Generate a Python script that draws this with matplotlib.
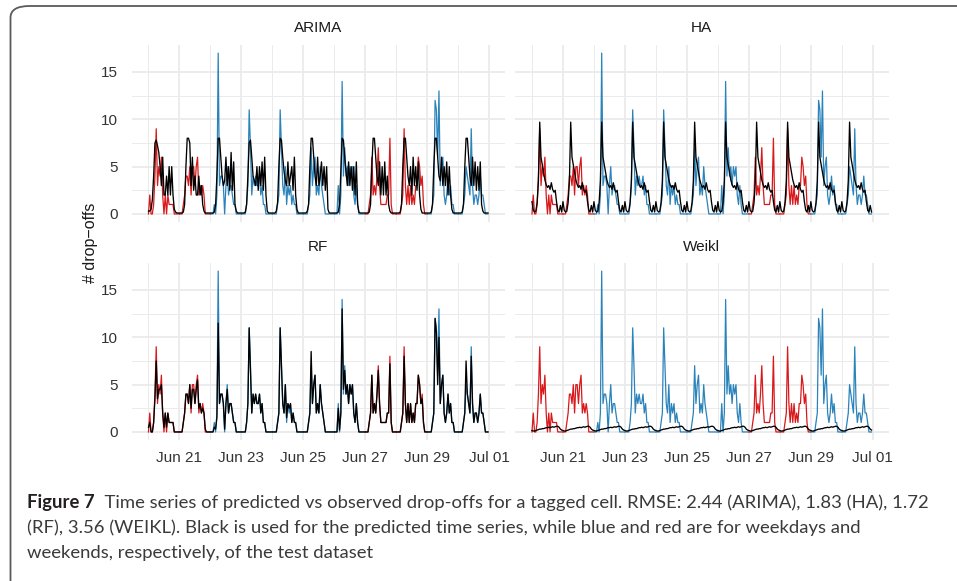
import numpy as np
import pandas as pd
import matplotlib
matplotlib.use("Agg")
import matplotlib.pyplot as plt
from matplotlib.patches import FancyBboxPatch

# hourly observed drop-offs, Jun 20 00:00 .. Jun 30 23:00
observed = [
    0, 2, 0, 0, 1, 4, 9, 3, 5, 4, 6, 2, 0, 2, 0, 2, 1, 1, 1, 1, 0, 0, 0, 0,
    0, 0, 0, 1, 2, 4, 4, 3, 5, 2, 5, 5, 3, 5, 6, 2, 3, 2, 3, 2, 0, 0, 0, 0,
    0, 0, 0, 1, 0, 2, 17, 3, 4, 4, 3, 0, 3, 5, 2, 3, 3, 2, 1, 1, 0, 0, 0, 0,
    0, 0, 0, 0, 1, 3, 11, 7, 2, 4, 3, 4, 3, 3, 4, 2, 3, 1, 1, 0, 0, 0, 0, 0,
    0, 0, 0, 0, 1, 2, 11, 7, 3, 2, 5, 1, 3, 2, 3, 1, 2, 1, 1, 0, 0, 0, 0, 0,
    0, 0, 0, 0, 1, 2, 7, 3, 5, 6, 2, 3, 2, 5, 3, 2, 1, 0, 0, 0, 0, 0, 0, 0,
    0, 0, 0, 3, 0, 2, 14, 4, 7, 4, 5, 3, 5, 4, 5, 2, 1, 3, 1, 0, 0, 0, 0, 0,
    0, 0, 0, 1, 2, 6, 2, 3, 2, 4, 7, 3, 1, 1, 1, 1, 1, 2, 2, 8, 1, 0, 0, 0,
    0, 0, 0, 0, 1, 2, 9, 3, 1, 3, 1, 3, 1, 2, 1, 3, 3, 6, 5, 3, 4, 1, 0, 0,
    0, 0, 0, 0, 1, 2, 12, 11, 6, 13, 3, 5, 6, 2, 1, 2, 4, 2, 3, 1, 1, 0, 0, 0,
    0, 0, 0, 0, 1, 2, 5, 4, 3, 2, 9, 3, 1, 2, 2, 1, 2, 4, 2, 2, 1, 0, 0, 0,
]

arima = [
    0.3, 0.3, 0.5, 1.5, 4, 7.5, 7.8, 7.2, 6.5, 5, 3, 6, 2, 2, 4, 2, 5, 2, 5, 2, 0.5, 0.2, 0.1, 0.1,
    0.1, 0.1, 0.1, 0.2, 1, 5, 8, 8, 7.5, 3, 6, 2.5, 4, 2, 2, 4, 2, 3, 1, 0.3, 0.1, 0.1, 0.1, 0.1,
    0.1, 0.1, 0.1, 0.2, 1, 4, 8, 8, 6, 4, 3, 3.5, 6, 3, 5, 2.5, 6.5, 2.5, 5.5, 1, 0.3, 0.1, 0.1, 0.1,
    0.1, 0.1, 0.1, 0.2, 1, 4, 7.5, 7.8, 6, 4, 3.5, 3, 5, 2.5, 5, 3, 5.5, 2.5, 6, 2, 0.3, 0.1, 0.1, 0.1,
    0.1, 0.1, 0.1, 0.3, 1.2, 5, 8, 7.8, 6, 4.5, 3.5, 3, 5.5, 3, 4, 5, 2.5, 6, 2, 0.5, 0.1, 0.1, 0.1, 0.1,
    0.1, 0.1, 0.1, 0.3, 1, 5, 8, 8, 6, 4, 3, 6, 3, 4, 5.5, 3, 5, 2.5, 5, 0.5, 0.1, 0.1, 0.1, 0.1,
    0.1, 0.1, 0.1, 0.2, 1, 4.5, 8, 7.8, 6, 4.5, 3, 5.5, 3, 5, 2.5, 5, 2, 5.5, 1, 0.2, 0.1, 0.1, 0.1, 0.1,
    0.1, 0.1, 0.1, 0.2, 1, 5, 8, 8, 6, 4, 3, 5.5, 2, 5, 2, 5.5, 2, 4, 1, 0.3, 0.1, 0.1, 0.1, 0.1,
    0.1, 0.1, 0.1, 0.2, 1, 5, 8, 8, 6, 4, 3, 5, 2, 6, 3, 5, 2.5, 5.5, 2, 0.5, 0.1, 0.1, 0.1, 0.1,
    0.1, 0.1, 0.1, 0.2, 1, 5, 8, 8, 6, 4, 3.5, 6, 3, 5, 3, 5.5, 2, 5, 2, 0.5, 0.1, 0.1, 0.1, 0.1,
    0.1, 0.1, 0.1, 0.2, 1, 5, 8, 8, 6, 4, 3, 6, 3, 5.5, 2.5, 5, 2.5, 5.5, 1, 0.3, 0.1, 0.1, 0.1, 0.1,
]

# historical average: same hour-of-day profile every day
ha_day = [1.3, 0.4, 0.2, 0.3, 1.2, 3.5, 9.7, 6, 5.2, 4.4, 3.6, 3.1,
          2.8, 3.0, 2.6, 3.3, 2.6, 2.3, 2.5, 1.3, 0.4, 0.2, 0.9, 0.2]

rf = [
    0.5, 1, 0, 0, 1, 3.5, 7.5, 3.5, 4.5, 4.5, 5, 2, 0.5, 2, 0.5, 2, 1, 1, 1, 1, 0, 0, 0, 0,
    0, 0, 0, 1, 2, 4, 4, 3, 5, 2.5, 4.5, 4.5, 3, 4.5, 5.5, 2.5, 3, 2, 2.5, 2, 0.3, 0, 0, 0,
    0, 0, 0, 0.5, 0.3, 1.5, 11.5, 3, 4, 4, 3, 0.3, 3, 4.5, 2, 3, 3, 2, 1, 1, 0, 0, 0, 0,
    0, 0, 0, 0, 1, 3, 11, 6.5, 2, 4, 3, 4, 3, 3, 4, 2, 3, 1, 1, 0, 0, 0, 0, 0,
    0, 0, 0, 0, 1, 2, 11, 7, 3, 2, 5, 1.5, 3, 2.5, 3, 1, 2, 1, 1, 0, 0, 0, 0, 0,
    0, 0, 0, 0, 1, 2, 8.5, 3, 5, 6, 2, 3, 2, 5, 3, 2, 1, 0, 0, 0, 0, 0, 0, 0,
    0, 0, 0, 2.5, 0.2, 2, 13, 4.5, 6.5, 4, 5, 3, 5, 4, 5, 2, 1, 3, 1, 0, 0, 0, 0, 0,
    0, 0, 0, 1, 2, 6, 2, 3, 2, 4, 6.5, 3, 1, 1, 1, 1, 1, 2, 2, 7.2, 1, 0, 0, 0,
    0, 0, 0, 0, 1, 2, 8, 3, 1, 3, 1, 3, 1, 2, 1, 3, 3, 6, 5, 3, 3.5, 1, 0, 0,
    0, 0, 0, 0, 1, 2, 12, 10.5, 5, 10, 3, 5, 6, 2, 1, 2, 4, 2, 3, 1, 1, 0, 0, 0,
    0, 0, 0, 0, 1, 2, 7.5, 4, 3, 2, 8, 3, 1, 2, 2, 1, 2, 4, 2, 2, 1, 0, 0, 0,
]

weikl_day = [0.15, 0.1, 0.1, 0.15, 0.2, 0.25, 0.3, 0.3, 0.35, 0.35, 0.4, 0.45,
             0.45, 0.5, 0.45, 0.5, 0.55, 0.5, 0.55, 0.6, 0.6, 0.5, 0.3, 0.2]

days = ["2015-06-20", "2015-06-21", "2015-06-22", "2015-06-23", "2015-06-24", "2015-06-25",
        "2015-06-26", "2015-06-27", "2015-06-28", "2015-06-29", "2015-06-30"]
weekend = [True, True, False, False, False, False, False, True, True, False, False]

models = ["ARIMA", "HA", "RF", "Weikl"]
predictions = [arima, ha_day * len(days), rf, weikl_day * len(days)]

tick_dates = ["2015-06-21", "2015-06-23", "2015-06-25", "2015-06-27", "2015-06-29", "2015-07-01"]
tick_labels = ["Jun 21", "Jun 23", "Jun 25", "Jun 27", "Jun 29", "Jul 01"]
minor_dates = ["2015-06-20", "2015-06-22", "2015-06-24", "2015-06-26", "2015-06-28", "2015-06-30"]

caption_lines = [
    "Time series of predicted vs observed drop-offs for a tagged cell. RMSE: 2.44 (ARIMA), 1.83 (HA), 1.72",
    "(RF), 3.56 (WEIKL). Black is used for the predicted time series, while blue and red are for weekdays and",
    "weekends, respectively, of the test dataset",
]

BLUE = "#2B83BA"
RED = "#D7191C"
GRID = "#EBEBEB"

times = pd.date_range(days[0], periods=len(observed), freq="h")
obs = np.array(observed, dtype=float)

plt.rcParams["font.family"] = ["Liberation Sans", "DejaVu Sans"]
fig = plt.figure(figsize=(9.57, 5.81), dpi=100)

W, H = 957.0, 581.0
panels = [(131.5, 45), (515, 45), (131.5, 263), (515, 263)]  # left, top in px
pw, ph = 373.5, 177

span = times[-1] - times[0]
pad = span * 0.05

for i, (model, pred) in enumerate(zip(models, predictions)):
    x0, y0 = panels[i]
    ax = fig.add_axes([x0 / W, 1 - (y0 + ph) / H, pw / W, ph / H])

    # observed, coloured per day (weekend red, weekday blue)
    for d, we in enumerate(weekend):
        s = d * 24
        e = min(s + 25, len(obs))
        ax.plot(times[s:e], obs[s:e], color=RED if we else BLUE, lw=0.9, zorder=2)
    ax.plot(times, pred, color="black", lw=0.95, zorder=3)

    ax.set_xlim(times[0] - pad, times[-1] + pad)
    ax.set_ylim(-0.85, 17.85)
    ax.set_yticks([0, 5, 10, 15])
    ax.set_yticks([2.5, 7.5, 12.5], minor=True)
    ax.set_xticks(pd.to_datetime(tick_dates))
    ax.set_xticks(pd.to_datetime(minor_dates), minor=True)
    ax.grid(which="major", color=GRID, lw=1.3)
    ax.grid(which="minor", color=GRID, lw=0.7)
    ax.set_axisbelow(True)
    for sp in ax.spines.values():
        sp.set_visible(False)
    ax.tick_params(which="both", length=0, labelsize=11, labelcolor="#333333")
    ax.tick_params(axis="y", pad=10)
    ax.tick_params(axis="x", pad=8)
    if i < 2:
        ax.set_xticklabels([])
    else:
        ax.set_xticklabels(tick_labels)
    if i % 2 == 1:
        ax.set_yticklabels([])
    ax.set_title(model, fontsize=11, color="#1a1a1a", pad=9)

fig.text(90 / W, 1 - 243 / H, "# drop\u2212offs", rotation=90, ha="center", va="center",
         fontsize=11.5, color="#1a1a1a")

# frame round the figure
frame = FancyBboxPatch((10.5 / W, -0.02), 1.2, 1 - 6 / H + 0.02,
                       boxstyle="round,pad=0,rounding_size=0.02", transform=fig.transFigure,
                       fill=False, edgecolor="#5a5a5a", lw=1.3, clip_on=False)
fig.patches.append(frame)

cap_font = ["Lato", "DejaVu Sans"]
cap_size = 13.3
t = fig.text(27 / W, 1 - 508 / H, "Figure 7", fontsize=cap_size, fontweight="bold",
             family=cap_font, color="#231F20")
plt.annotate("  " + caption_lines[0], xy=(1, 0), xycoords=t, va="bottom", ha="left",
             fontsize=cap_size, family=cap_font, color="#3a3a3a")
fig.text(27 / W, 1 - 533 / H, caption_lines[1], fontsize=cap_size, family=cap_font, color="#3a3a3a")
fig.text(27 / W, 1 - 558 / H, caption_lines[2], fontsize=cap_size, family=cap_font, color="#3a3a3a")

fig.savefig("out.png", dpi=100)
